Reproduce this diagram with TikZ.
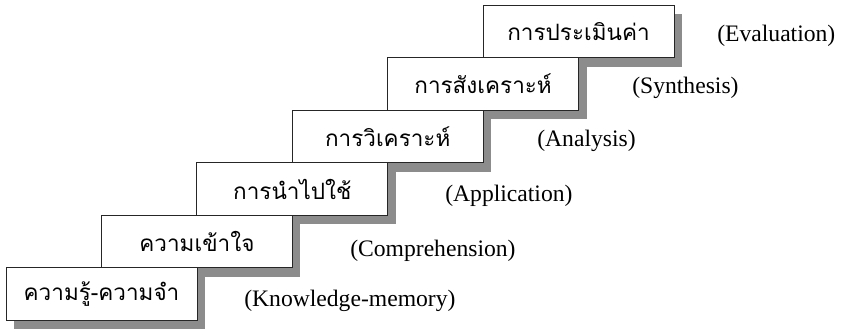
\documentclass[tikz,border=0pt]{standalone}
\usepackage{fontspec}
\setmainfont{Liberation Serif}
\newfontfamily\thaifont[Script=Thai]{Loma}
\usetikzlibrary{shadows}
\tikzset{
	stepbox/.style={draw=black!85, line width=0.6pt, fill=white,
		minimum width=4.775cm, minimum height=1.3125cm, inner sep=0pt,
		font=\thaifont\fontsize{16}{19}\selectfont,
		drop shadow={shadow xshift=0.2cm, shadow yshift=-0.225cm, fill=black!45, opacity=1}},
	levelname/.style={anchor=base west, inner sep=0pt, font=\fontsize{16.8}{20}\selectfont}
}

\begin{document}
\begin{tikzpicture}
		\useasboundingbox (0,0) rectangle (21.075,8.225);
		% top step first, so each lower box covers the shadow of the one above
		\node[stepbox] (evaluation) at (14.4625,7.4375) {การประเมินค่า};
		\node[stepbox] (synthesis) at (12.0775,6.125) {การสังเคราะห์};
		\node[stepbox] (analysis) at (9.6925,4.8125) {การวิเคราะห์};
		\node[stepbox] (application) at (7.3075,3.5) {การนำไปใช้};
		\node[stepbox] (comprehension) at (4.9225,2.1875) {ความเข้าใจ};
		\node[stepbox] (knowledge) at (2.5375,0.875) {ความรู้-ความจำ};
		% english names
		\node[levelname] (evaluationname) at (17.925,7.175) {(Evaluation)};
		\node[levelname] (synthesisname) at (15.8,5.875) {(Synthesis)};
		\node[levelname] (analysisname) at (13.425,4.55) {(Analysis)};
		\node[levelname] (applicationname) at (11.125,3.175) {(Application)};
		\node[levelname] (comprehensionname) at (8.75,1.825) {(Comprehension)};
		\node[levelname] (knowledgename) at (6.1,0.575) {(Knowledge-memory)};
	\end{tikzpicture}
\end{document}
